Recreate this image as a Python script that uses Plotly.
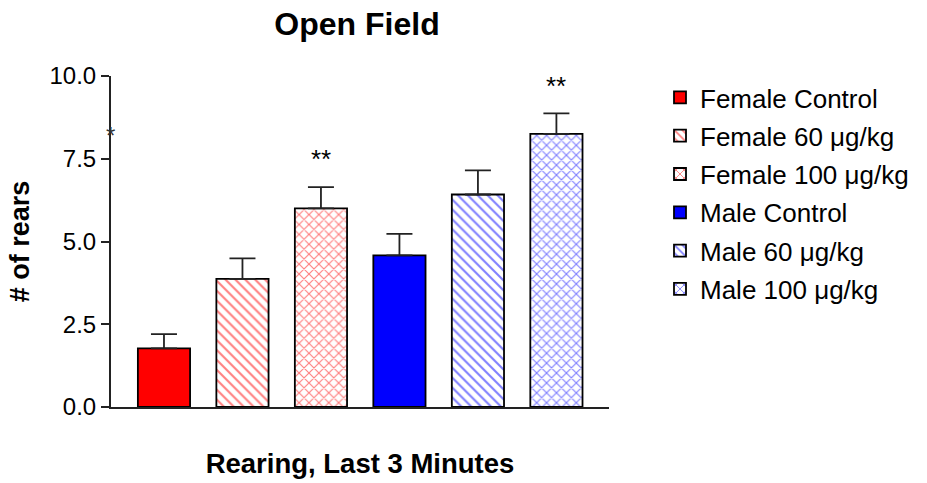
import plotly.graph_objects as go

groups = ["Female Control", "Female 60 μg/kg", "Female 100 μg/kg",
          "Male Control", "Male 60 μg/kg", "Male 100 μg/kg"]
means = [1.77, 3.87, 6.00, 4.58, 6.42, 8.25]
sems = [0.43, 0.62, 0.64, 0.65, 0.73, 0.62]
colors = ["#FF0000", "#FF0000", "#FF0000", "#0000FF", "#0000FF", "#0000FF"]
patterns = ["", "\\", "x", "", "\\", "x"]
sig_labels = ["", "", "**", "", "", "**"]
sig_y = [None, None, 7.49, None, None, 9.70]

W, H = 927, 483

fig = go.Figure()
for i, g in enumerate(groups):
    solid = patterns[i] == ""
    fig.add_trace(go.Bar(
        x=[i], y=[means[i]], name=g, legendgroup=g,
        marker=dict(
            color=colors[i] if solid else "white",
            line=dict(color="black", width=1.8),
            pattern=dict(shape=patterns[i], fgcolor=colors[i], bgcolor="white",
                         size=7, solidity=0.3, fillmode="overlay") if not solid else None,
        ),
        error_y=dict(type="data", symmetric=False, array=[sems[i]], arrayminus=[0],
                     color="#222222", thickness=1.8, width=13),
        width=0.665,
    ))

for i, lab in enumerate(sig_labels):
    if lab:
        fig.add_annotation(x=i, y=sig_y[i], text=lab, showarrow=False,
                           font=dict(size=26, color="black", family="Liberation Sans"),
                           yanchor="middle")

# stray asterisk near the y axis
fig.add_annotation(xref="paper", x=-0.002, y=8.2, text="*", showarrow=False,
                   font=dict(size=24, color="#333333", family="Liberation Sans"),
                   yanchor="middle", xanchor="center")

plot_w = 609 - 111
plot_h = 407 - 76
fig.update_layout(
    width=W, height=H,
    margin=dict(l=111, r=W - 609, t=76, b=H - 407),
    paper_bgcolor="white", plot_bgcolor="white",
    font=dict(family="Liberation Sans", color="black"),
    title=dict(text="<b>Open Field</b>", x=357 / W, xref="container", xanchor="center",
               y=1 - 24 / H, yref="container", yanchor="middle",
               font=dict(size=32, family="Liberation Sans", color="black")),
    showlegend=True,
    legend=dict(x=(660 - 111) / plot_w, xanchor="left", y=1 + 2 / plot_h, yanchor="top",
                font=dict(size=26, family="Liberation Sans", color="black"),
                tracegroupgap=1.5, bgcolor="rgba(0,0,0,0)"),
    bargap=0.335,
)
fig.update_xaxes(range=[-0.675, 5.67], showline=True, linecolor="#222222", linewidth=2,
                 showticklabels=False, ticks="", showgrid=False, zeroline=False,
                 title=dict(text="<b>Rearing, Last 3 Minutes</b>", standoff=46,
                            font=dict(size=27.5, family="Liberation Sans", color="black")))
fig.update_yaxes(range=[0, 10], tickvals=[0, 2.5, 5, 7.5, 10],
                 ticktext=["0.0", "2.5", "5.0", "7.5", "10.0"],
                 showline=True, linecolor="#222222", linewidth=2,
                 ticks="outside", ticklen=8, tickwidth=2, tickcolor="#222222",
                 showgrid=False, zeroline=False,
                 tickfont=dict(size=24, family="Liberation Sans", color="black"),
                 title=dict(text="<b># of rears</b>", standoff=12,
                            font=dict(size=27, family="Liberation Sans", color="black")))

fig.write_html("out.html", config={"displayModeBar": False},
               post_script="document.body.style.margin='0px';")
